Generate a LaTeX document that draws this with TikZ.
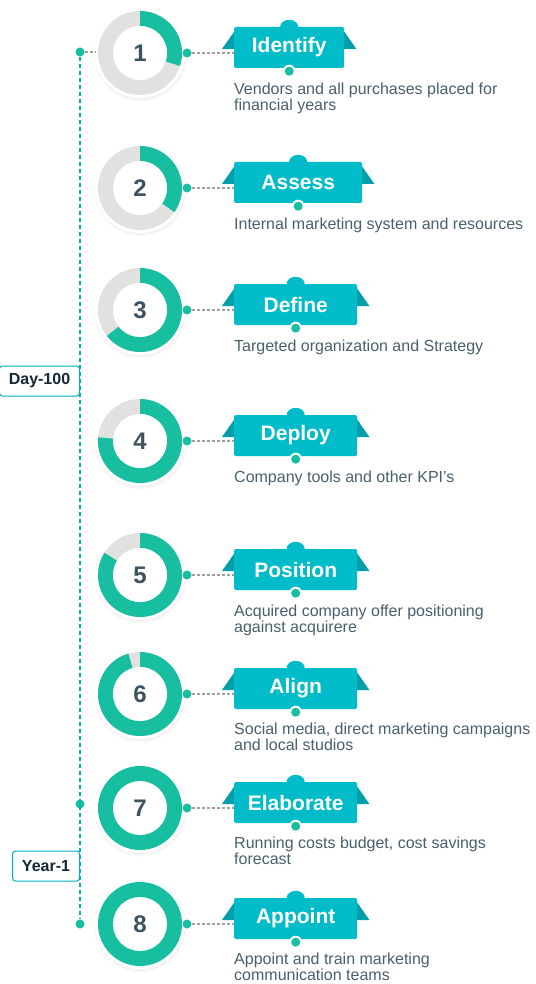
\documentclass[tikz,border=0pt]{standalone}
\usepackage{fontspec}
\setmainfont{Liberation Sans}
\usetikzlibrary{calc, shadows, backgrounds}

\definecolor{ringgreen}{RGB}{24,190,160}
\definecolor{ringgray}{RGB}{226,225,223}
\definecolor{banteal}{RGB}{0,188,201}
\definecolor{wingteal}{RGB}{0,158,170}
\definecolor{lineteal}{RGB}{0,176,190}
\definecolor{numcol}{RGB}{60,84,96}
\definecolor{desccol}{RGB}{72,96,108}
\definecolor{tagcol}{RGB}{20,40,52}
\definecolor{conngray}{RGB}{160,160,160}

\begin{document}
\begin{tikzpicture}[
    x=1pt, y=1pt,
    % Ring pieces
    ringbase/.style={circle, fill=white, minimum size=90, inner sep=0pt,
        circular drop shadow={shadow xshift=0pt, shadow yshift=-1.5pt, shadow scale=1.05, opacity=0.2}},
    num/.style={font=\bfseries\fontsize{24}{26}\selectfont, text=numcol},
    gdot/.style={circle, fill=ringgreen, minimum size=9, inner sep=0pt},
    % Banner and texts
    bann/.style={fill=banteal, anchor=west, minimum width=123, minimum height=41, inner sep=0pt,
        rounded corners=1.5, font=\bfseries\fontsize{21}{23}\selectfont, text=white},
    wing/.style={fill=wingteal},
    desc/.style={anchor=north west, align=left, inner sep=0pt, text=desccol, font=\fontsize{16}{15.5}\selectfont},
    tag/.style={draw=lineteal, line width=1, fill=white, rounded corners=3, anchor=east, minimum height=30,
        text=tagcol, font=\bfseries\fontsize{16}{18}\selectfont},
    % Lines
    conn/.style={draw=conngray, line width=1.1, dash pattern=on 3pt off 2pt},
    vline/.style={draw=lineteal, line width=1.5, dash pattern=on 4pt off 3pt}
]
\useasboundingbox (0,0) rectangle (535,-984);

% ===============================
% Timeline on the left
% ===============================
\node[gdot] (top) at (80,-52) {};
\node[gdot] (yr) at (80,-804) {};
\node[gdot] (end) at (80,-924) {};
\draw[vline] (top) -- (end);
\node[tag, minimum width=80] (day) at (80,-381) {Day-100};
\node[tag, minimum width=67] (year) at (80,-866) {Year-1};

% ===============================
% Step 1: Identify
% ===============================
\node[ringbase] (ring1) at (140,-53) {};
\fill[ringgray] (ring1.center) circle (42);
\fill[ringgreen] ($(ring1.center)+(90:42)$) arc[start angle=90, end angle=-18, radius=42]
    -- ($(ring1.center)+(-18:27)$) arc[start angle=-18, end angle=90, radius=27] -- cycle;
\fill[white] (ring1.center) circle (27);
\node[num] (num1) at (ring1.center) {1};
\node[gdot] (rd1) at (187,-53) {};
\draw[conn] (top) -- (top -| ring1.west);

\node[bann, minimum width=110] (b1) at (234,-47.5) {Identify};
\fill[banteal] ($(b1.north)+(-9,0)$) arc[start angle=180, end angle=0, x radius=9, y radius=7] -- cycle;
\begin{scope}[on background layer]
    \fill[wing] ($(b1.west)+(-12,-1.5)$) -- ($(b1.west)+(2,18.5)$) -- ($(b1.east)+(-2,18.5)$) -- ($(b1.east)+(12,-1.5)$) -- cycle;
\end{scope}
\fill[white] ($(b1.south)+(0,-3)$) circle (6.5);
\node[gdot] (bd1) at ($(b1.south)+(0,-3)$) {};
\draw[conn] (rd1) -- (rd1 -| b1.west);
\node[desc] (d1) at (234,-83) {Vendors and all purchases placed for\\financial years};

% ===============================
% Step 2: Assess
% ===============================
\node[ringbase] (ring2) at (140,-188) {};
\fill[ringgray] (ring2.center) circle (42);
\fill[ringgreen] ($(ring2.center)+(90:42)$) arc[start angle=90, end angle=-35, radius=42]
    -- ($(ring2.center)+(-35:27)$) arc[start angle=-35, end angle=90, radius=27] -- cycle;
\fill[white] (ring2.center) circle (27);
\node[num] (num2) at (ring2.center) {2};
\node[gdot] (rd2) at (187,-188) {};

\node[bann, minimum width=128] (b2) at (234,-182.5) {Assess};
\fill[banteal] ($(b2.north)+(-9,0)$) arc[start angle=180, end angle=0, x radius=9, y radius=7] -- cycle;
\begin{scope}[on background layer]
    \fill[wing] ($(b2.west)+(-12,-1.5)$) -- ($(b2.west)+(2,18.5)$) -- ($(b2.east)+(-2,18.5)$) -- ($(b2.east)+(12,-1.5)$) -- cycle;
\end{scope}
\fill[white] ($(b2.south)+(0,-3)$) circle (6.5);
\node[gdot] (bd2) at ($(b2.south)+(0,-3)$) {};
\draw[conn] (rd2) -- (rd2 -| b2.west);
\node[desc] (d2) at (234,-218) {Internal marketing system and resources};

% ===============================
% Step 3: Define
% ===============================
\node[ringbase] (ring3) at (140,-310) {};
\fill[ringgray] (ring3.center) circle (42);
\fill[ringgreen] ($(ring3.center)+(90:42)$) arc[start angle=90, end angle=-142, radius=42]
    -- ($(ring3.center)+(-142:27)$) arc[start angle=-142, end angle=90, radius=27] -- cycle;
\fill[white] (ring3.center) circle (27);
\node[num] (num3) at (ring3.center) {3};
\node[gdot] (rd3) at (187,-310) {};

\node[bann] (b3) at (234,-304.5) {Define};
\fill[banteal] ($(b3.north)+(-9,0)$) arc[start angle=180, end angle=0, x radius=9, y radius=7] -- cycle;
\begin{scope}[on background layer]
    \fill[wing] ($(b3.west)+(-12,-1.5)$) -- ($(b3.west)+(2,18.5)$) -- ($(b3.east)+(-2,18.5)$) -- ($(b3.east)+(12,-1.5)$) -- cycle;
\end{scope}
\fill[white] ($(b3.south)+(0,-3)$) circle (6.5);
\node[gdot] (bd3) at ($(b3.south)+(0,-3)$) {};
\draw[conn] (rd3) -- (rd3 -| b3.west);
\node[desc] (d3) at (234,-340) {Targeted organization and Strategy};

% ===============================
% Step 4: Deploy
% ===============================
\node[ringbase] (ring4) at (140,-441) {};
\fill[ringgray] (ring4.center) circle (42);
\fill[ringgreen] ($(ring4.center)+(90:42)$) arc[start angle=90, end angle=-185, radius=42]
    -- ($(ring4.center)+(-185:27)$) arc[start angle=-185, end angle=90, radius=27] -- cycle;
\fill[white] (ring4.center) circle (27);
\node[num] (num4) at (ring4.center) {4};
\node[gdot] (rd4) at (187,-441) {};

\node[bann] (b4) at (234,-435.5) {Deploy};
\fill[banteal] ($(b4.north)+(-9,0)$) arc[start angle=180, end angle=0, x radius=9, y radius=7] -- cycle;
\begin{scope}[on background layer]
    \fill[wing] ($(b4.west)+(-12,-1.5)$) -- ($(b4.west)+(2,18.5)$) -- ($(b4.east)+(-2,18.5)$) -- ($(b4.east)+(12,-1.5)$) -- cycle;
\end{scope}
\fill[white] ($(b4.south)+(0,-3)$) circle (6.5);
\node[gdot] (bd4) at ($(b4.south)+(0,-3)$) {};
\draw[conn] (rd4) -- (rd4 -| b4.west);
\node[desc] (d4) at (234,-471) {Company tools and other KPI’s};

% ===============================
% Step 5: Position
% ===============================
\node[ringbase] (ring5) at (140,-575) {};
\fill[ringgray] (ring5.center) circle (42);
\fill[ringgreen] ($(ring5.center)+(90:42)$) arc[start angle=90, end angle=-212, radius=42]
    -- ($(ring5.center)+(-212:27)$) arc[start angle=-212, end angle=90, radius=27] -- cycle;
\fill[white] (ring5.center) circle (27);
\node[num] (num5) at (ring5.center) {5};
\node[gdot] (rd5) at (187,-575) {};

\node[bann] (b5) at (234,-569.5) {Position};
\fill[banteal] ($(b5.north)+(-9,0)$) arc[start angle=180, end angle=0, x radius=9, y radius=7] -- cycle;
\begin{scope}[on background layer]
    \fill[wing] ($(b5.west)+(-12,-1.5)$) -- ($(b5.west)+(2,18.5)$) -- ($(b5.east)+(-2,18.5)$) -- ($(b5.east)+(12,-1.5)$) -- cycle;
\end{scope}
\fill[white] ($(b5.south)+(0,-3)$) circle (6.5);
\node[gdot] (bd5) at ($(b5.south)+(0,-3)$) {};
\draw[conn] (rd5) -- (rd5 -| b5.west);
\node[desc] (d5) at (234,-605) {Acquired company offer positioning\\against acquirere};

% ===============================
% Step 6: Align
% ===============================
\node[ringbase] (ring6) at (140,-694) {};
\fill[ringgray] (ring6.center) circle (42);
\fill[ringgreen] ($(ring6.center)+(90:42)$) arc[start angle=90, end angle=-254, radius=42]
    -- ($(ring6.center)+(-254:27)$) arc[start angle=-254, end angle=90, radius=27] -- cycle;
\fill[white] (ring6.center) circle (27);
\node[num] (num6) at (ring6.center) {6};
\node[gdot] (rd6) at (187,-694) {};

\node[bann] (b6) at (234,-688.5) {Align};
\fill[banteal] ($(b6.north)+(-9,0)$) arc[start angle=180, end angle=0, x radius=9, y radius=7] -- cycle;
\begin{scope}[on background layer]
    \fill[wing] ($(b6.west)+(-12,-1.5)$) -- ($(b6.west)+(2,18.5)$) -- ($(b6.east)+(-2,18.5)$) -- ($(b6.east)+(12,-1.5)$) -- cycle;
\end{scope}
\fill[white] ($(b6.south)+(0,-3)$) circle (6.5);
\node[gdot] (bd6) at ($(b6.south)+(0,-3)$) {};
\draw[conn] (rd6) -- (rd6 -| b6.west);
\node[desc] (d6) at (234,-723) {Social media, direct marketing campaigns\\and local studios};

% ===============================
% Step 7: Elaborate
% ===============================
\node[ringbase] (ring7) at (140,-808) {};
\fill[ringgreen] (ring7.center) circle (42);
\fill[white] (ring7.center) circle (27);
\node[num] (num7) at (ring7.center) {7};
\node[gdot] (rd7) at (187,-808) {};

\node[bann] (b7) at (234,-802.5) {Elaborate};
\fill[banteal] ($(b7.north)+(-9,0)$) arc[start angle=180, end angle=0, x radius=9, y radius=7] -- cycle;
\begin{scope}[on background layer]
    \fill[wing] ($(b7.west)+(-12,-1.5)$) -- ($(b7.west)+(2,18.5)$) -- ($(b7.east)+(-2,18.5)$) -- ($(b7.east)+(12,-1.5)$) -- cycle;
\end{scope}
\fill[white] ($(b7.south)+(0,-3)$) circle (6.5);
\node[gdot] (bd7) at ($(b7.south)+(0,-3)$) {};
\draw[conn] (rd7) -- (rd7 -| b7.west);
\node[desc] (d7) at (234,-837) {Running costs budget, cost savings\\forecast};

% ===============================
% Step 8: Appoint
% ===============================
\node[ringbase] (ring8) at (140,-924) {};
\fill[ringgreen] (ring8.center) circle (42);
\fill[white] (ring8.center) circle (27);
\node[num] (num8) at (ring8.center) {8};
\node[gdot] (rd8) at (187,-924) {};

\node[bann] (b8) at (234,-918.5) {Appoint};
\fill[banteal] ($(b8.north)+(-9,0)$) arc[start angle=180, end angle=0, x radius=9, y radius=7] -- cycle;
\begin{scope}[on background layer]
    \fill[wing] ($(b8.west)+(-12,-1.5)$) -- ($(b8.west)+(2,18.5)$) -- ($(b8.east)+(-2,18.5)$) -- ($(b8.east)+(12,-1.5)$) -- cycle;
\end{scope}
\fill[white] ($(b8.south)+(0,-3)$) circle (6.5);
\node[gdot] (bd8) at ($(b8.south)+(0,-3)$) {};
\draw[conn] (rd8) -- (rd8 -| b8.west);
\node[desc] (d8) at (234,-953) {Appoint and train marketing\\communication teams};

\end{tikzpicture}
\end{document}
